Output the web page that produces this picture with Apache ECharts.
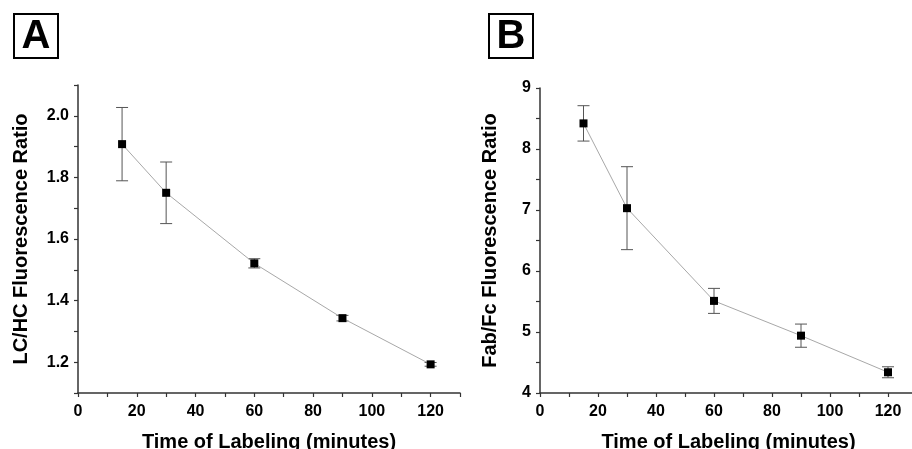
<!DOCTYPE html>
<html>
<head>
<meta charset="utf-8">
<script src="https://cdn.jsdelivr.net/npm/echarts@6/dist/echarts.min.js"></script>
<style>html,body{margin:0;padding:0;background:#fff;overflow:hidden}#c{width:912px;height:449px}</style>
</head>
<body>
<div id="c"></div>
<script>
const times = [15, 30, 60, 90, 120];
const lchcMean = [1.908, 1.750, 1.521, 1.343, 1.193];
const lchcErr = [0.119, 0.100, 0.015, 0.009, 0.006];
const fabfcMean = [8.42, 7.03, 5.51, 4.94, 4.34];
const fabfcErr = [0.29, 0.68, 0.205, 0.19, 0.09];
const xTickLabels = [0, 20, 40, 60, 80, 100, 120];
const yTickLabelsA = [1.2, 1.4, 1.6, 1.8, 2.0];
const yTickLabelsB = [4, 5, 6, 7, 8, 9];

const FONT = '"Liberation Sans", Arial, sans-serif';
const axisColor = '#333';

function errSeries(idx, means, errs) {
  return {
    type: 'custom', xAxisIndex: idx, yAxisIndex: idx, z: 1,
    data: times.map((t, i) => [t, means[i] - errs[i], means[i] + errs[i]]),
    renderItem: function (params, api) {
      const lo = api.coord([api.value(0), api.value(1)]);
      const hi = api.coord([api.value(0), api.value(2)]);
      const w = 6;
      const st = { stroke: '#555', lineWidth: 1 };
      return { type: 'group', children: [
        { type: 'line', shape: { x1: lo[0], y1: lo[1], x2: hi[0], y2: hi[1] }, style: st },
        { type: 'line', shape: { x1: lo[0] - w, y1: lo[1], x2: lo[0] + w, y2: lo[1] }, style: st },
        { type: 'line', shape: { x1: hi[0] - w, y1: hi[1], x2: hi[0] + w, y2: hi[1] }, style: st }
      ]};
    }
  };
}

function xAxis(idx) {
  return {
    type: 'value', gridIndex: idx, min: 0, max: 130, interval: 10,
    axisLine: { show: true, lineStyle: { color: axisColor, width: 1.5 } },
    axisTick: { show: true, length: 4, lineStyle: { color: axisColor, width: 1.2 } },
    splitLine: { show: false },
    axisLabel: {
      color: '#000', fontFamily: FONT, fontWeight: 'bold', fontSize: 16, margin: 11,
      formatter: v => xTickLabels.indexOf(Math.round(v)) >= 0 ? String(Math.round(v)) : ''
    },
    name: 'Time of Labeling (minutes)', nameLocation: 'middle', nameGap: 39,
    nameTextStyle: { color: '#000', fontFamily: FONT, fontWeight: 'bold', fontSize: 20 }
  };
}

const option = {
  animation: false,
  backgroundColor: '#fff',
  grid: [
    { left: 78, top: 85, width: 382, height: 308, outerBoundsMode: 'none' },
    { left: 540, top: 88, width: 377, height: 305, outerBoundsMode: 'none' }
  ],
  xAxis: [xAxis(0), xAxis(1)],
  yAxis: [
    {
      type: 'value', gridIndex: 0, min: 1.1, max: 2.1, interval: 0.1,
      axisLine: { show: true, lineStyle: { color: axisColor, width: 1.5 } },
      axisTick: { show: true, length: 4, lineStyle: { color: axisColor, width: 1.2 } },
      splitLine: { show: false },
      axisLabel: {
        color: '#000', fontFamily: FONT, fontWeight: 'bold', fontSize: 16, margin: 9,
        formatter: v => {
          const r = Math.round(v * 10) / 10;
          return yTickLabelsA.some(t => Math.abs(t - r) < 1e-6) ? r.toFixed(1) : '';
        }
      },
      name: 'LC/HC Fluorescence Ratio', nameLocation: 'middle', nameGap: 47,
      nameTextStyle: { color: '#000', fontFamily: FONT, fontWeight: 'bold', fontSize: 20 }
    },
    {
      type: 'value', gridIndex: 1, min: 4, max: 9, interval: 0.5,
      axisLine: { show: true, lineStyle: { color: axisColor, width: 1.5 } },
      axisTick: { show: true, length: 4, lineStyle: { color: axisColor, width: 1.2 } },
      splitLine: { show: false },
      axisLabel: {
        color: '#000', fontFamily: FONT, fontWeight: 'bold', fontSize: 16, margin: 9,
        formatter: v => yTickLabelsB.some(t => Math.abs(t - v) < 1e-6) ? String(Math.round(v)) : ''
      },
      name: 'Fab/Fc Fluorescence Ratio', nameLocation: 'middle', nameGap: 40,
      nameTextStyle: { color: '#000', fontFamily: FONT, fontWeight: 'bold', fontSize: 20 }
    }
  ],
  series: [
    errSeries(0, lchcMean, lchcErr),
    {
      type: 'line', xAxisIndex: 0, yAxisIndex: 0, z: 3,
      data: times.map((t, i) => [t, lchcMean[i]]),
      symbol: 'rect', symbolSize: 8,
      lineStyle: { color: '#a8a8a8', width: 1 },
      itemStyle: { color: '#000' }
    },
    errSeries(1, fabfcMean, fabfcErr),
    {
      type: 'line', xAxisIndex: 1, yAxisIndex: 1, z: 3,
      data: times.map((t, i) => [t, fabfcMean[i]]),
      symbol: 'rect', symbolSize: 8,
      lineStyle: { color: '#a8a8a8', width: 1 },
      itemStyle: { color: '#000' }
    }
  ],
  graphic: [
    { type: 'rect', shape: { x: 14, y: 14, width: 44, height: 44 }, style: { fill: '#fff', stroke: '#000', lineWidth: 2 } },
    { type: 'text', x: 36, y: 37, style: { text: 'A', fontFamily: FONT, fontWeight: 'bold', fontSize: 40, fill: '#000', align: 'center', verticalAlign: 'middle' } },
    { type: 'rect', shape: { x: 489, y: 14, width: 44, height: 44 }, style: { fill: '#fff', stroke: '#000', lineWidth: 2 } },
    { type: 'text', x: 511, y: 37, style: { text: 'B', fontFamily: FONT, fontWeight: 'bold', fontSize: 40, fill: '#000', align: 'center', verticalAlign: 'middle' } }
  ]
};

echarts.init(document.getElementById('c'), null, { renderer: 'canvas' }).setOption(option);
</script>
</body>
</html>
